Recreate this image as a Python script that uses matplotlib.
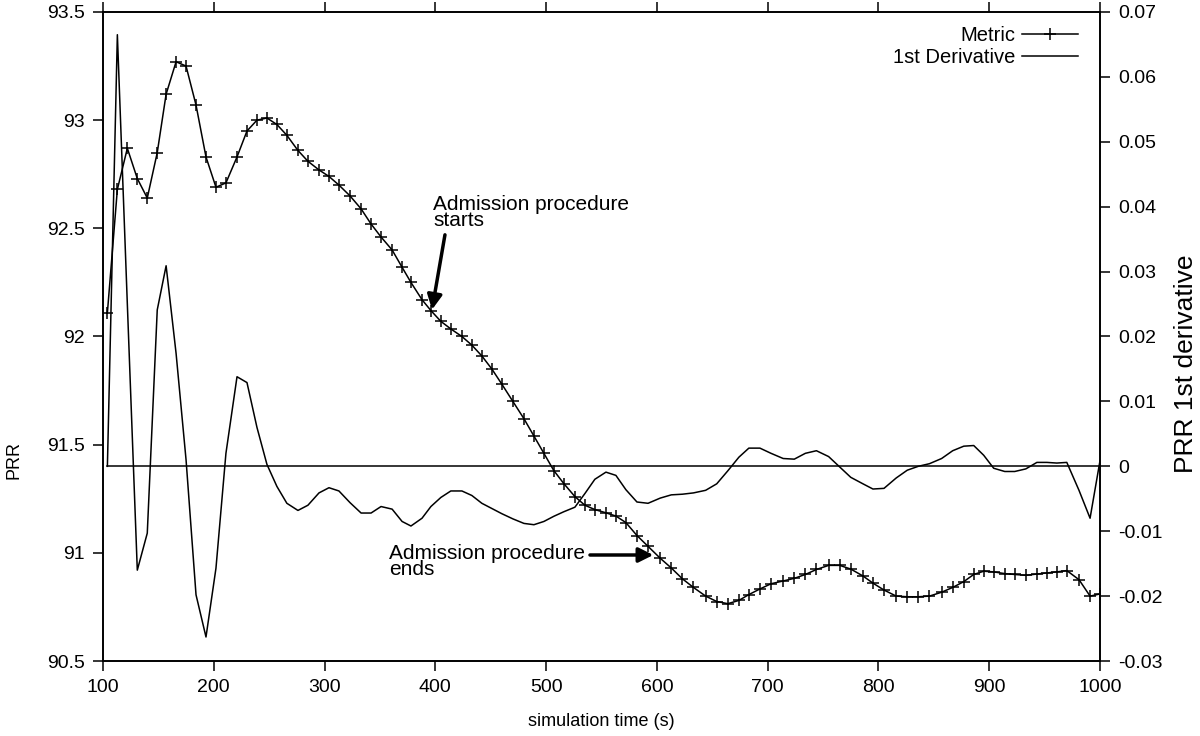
import matplotlib
matplotlib.use("Agg")
import matplotlib.pyplot as plt

plt.rcParams['font.family'] = ['Liberation Sans', 'DejaVu Sans']

# sample times (s)
t = [104, 113, 122, 131, 140, 149, 157, 166, 175, 184, 193, 202, 211, 221, 230,
     239, 248, 257, 266, 276, 285, 295, 304, 313, 323, 333, 342, 351, 361, 370,
     378, 388, 396, 405, 414, 424, 433, 442, 451, 460, 470, 480, 489, 498, 507,
     516, 526, 535, 544, 554, 563, 572, 582, 592, 603, 613, 623, 633, 644, 654,
     664, 674, 683, 693, 703, 714, 724, 734, 744, 755, 765, 775, 786, 795, 805,
     816, 826, 836, 846, 857, 867, 877, 886, 895, 904, 914, 923, 933, 943, 952,
     961, 970, 981, 991, 1000]

# PRR metric
metric = [92.11, 92.68, 92.87, 92.73, 92.64, 92.85, 93.12, 93.27, 93.25, 93.07,
          92.83, 92.69, 92.71, 92.83, 92.95, 93.00, 93.01, 92.98, 92.93, 92.86,
          92.81, 92.77, 92.74, 92.70, 92.65, 92.59, 92.52, 92.46, 92.40, 92.32,
          92.25, 92.17, 92.12, 92.07, 92.035, 92.00, 91.96, 91.91, 91.85, 91.78,
          91.70, 91.62, 91.54, 91.46, 91.38, 91.32, 91.26, 91.22, 91.20, 91.185,
          91.17, 91.14, 91.08, 91.03, 90.975, 90.93, 90.88, 90.84, 90.80, 90.775,
          90.765, 90.78, 90.807, 90.833, 90.857, 90.87, 90.882, 90.90, 90.923, 90.942,
          90.942, 90.925, 90.893, 90.86, 90.828, 90.80, 90.797, 90.797, 90.80, 90.818,
          90.84, 90.867, 90.90, 90.915, 90.912, 90.904, 90.90, 90.896, 90.902, 90.907,
          90.912, 90.918, 90.876, 90.80, 90.81]

# 1st derivative of PRR
deriv = [0.0, 0.0665, 0.025, -0.016, -0.0103, 0.0241, 0.0309, 0.0174, 0.001, -0.0198,
         -0.0263, -0.0157, 0.002, 0.0138, 0.0129, 0.006, 0.0003, -0.0031, -0.0057, -0.0068,
         -0.006, -0.0041, -0.0033, -0.0038, -0.0056, -0.0072, -0.0072, -0.0062, -0.0066, -0.0085,
         -0.0092, -0.008, -0.0062, -0.0048, -0.0038, -0.0038, -0.0045, -0.0057, -0.0065, -0.0073,
         -0.0081, -0.0088, -0.009, -0.0085, -0.0077, -0.007, -0.0063, -0.0042, -0.002, -0.0009,
         -0.0014, -0.0036, -0.0055, -0.0057, -0.0049, -0.0044, -0.0043, -0.0041, -0.0037, -0.0027,
         -0.0007, 0.0014, 0.0028, 0.0028, 0.002, 0.0012, 0.0011, 0.002, 0.0024, 0.0015,
         -0.0001, -0.0017, -0.0027, -0.0035, -0.0034, -0.0018, -0.0006, 0.0, 0.0004, 0.0012,
         0.0024, 0.0031, 0.0032, 0.0017, -0.0003, -0.0008, -0.0008, -0.0004, 0.0006, 0.0006,
         0.0005, 0.0006, -0.0037, -0.008, 0.0009]

xticks = [100, 200, 300, 400, 500, 600, 700, 800, 900, 1000]
yticks_left = [90.5, 91, 91.5, 92, 92.5, 93, 93.5]
yticks_right = [-0.03, -0.02, -0.01, 0, 0.01, 0.02, 0.03, 0.04, 0.05, 0.06, 0.07]

fig = plt.figure(figsize=(12, 7.36), dpi=100)
ax = fig.add_axes([0.0858, 0.1019, 0.8309, 0.8818])
ax2 = ax.twinx()

lm, = ax.plot(t, metric, color='black', lw=1.1, marker='+', markersize=9,
              markeredgewidth=1.1, label='Metric')
ld, = ax2.plot(t, deriv, color='black', lw=1.1, label='1st Derivative')
# zero reference line of the derivative
ax2.plot([t[0], t[-1]], [0, 0], color='black', lw=1.1)

ax.set_xlim(100, 1000)
ax.set_ylim(90.5, 93.5)
ax2.set_ylim(-0.03, 0.07)
ax.set_xticks(xticks)
ax.set_xticklabels([str(v) for v in xticks])
ax.set_yticks(yticks_left)
ax.set_yticklabels(['90.5', '91', '91.5', '92', '92.5', '93', '93.5'])
ax2.set_yticks(yticks_right)
ax2.set_yticklabels(['%g' % v if v != 0 else '0' for v in yticks_right])

for a in (ax, ax2):
    for s in a.spines.values():
        s.set_linewidth(1.2)
ax.tick_params(direction='out', length=7, width=1.1, labelsize=14, top=True, pad=6)
ax2.tick_params(direction='out', length=7, width=1.1, labelsize=14, pad=6)

ax.set_xlabel('simulation time (s)', fontsize=13)
ax.xaxis.set_label_coords(0.5, -0.08)
ax.set_ylabel('PRR', fontsize=13)
ax.yaxis.set_label_coords(-0.081, 0.31)
ax2.set_ylabel('PRR 1st derivative', fontsize=19)
ax2.yaxis.set_label_coords(1.074, 0.458)

leg = ax2.legend(handles=[lm, ld], loc='upper right', bbox_to_anchor=(0.989, 0.995),
                 frameon=False, fontsize=14.5, markerfirst=False, numpoints=1,
                 handlelength=2.8, handletextpad=0.3, labelspacing=0.15,
                 borderaxespad=0.25, borderpad=0.3)

arrow = dict(arrowstyle='-|>', lw=2.5, color='black', mutation_scale=22, shrinkA=0, shrinkB=0)
ax.annotate('', xy=(397, 92.124), xytext=(408.7, 92.47), arrowprops=arrow)
ax.text(397.9, 92.655, 'Admission procedure\nstarts', fontsize=15, ha='left', va='top',
        linespacing=0.82)
ax.annotate('', xy=(596.8, 90.99), xytext=(539.6, 90.99), arrowprops=arrow)
ax.text(358, 91.04, 'Admission procedure\nends', fontsize=15, ha='left', va='top',
        linespacing=0.82)

fig.savefig('out.png', dpi=100)
